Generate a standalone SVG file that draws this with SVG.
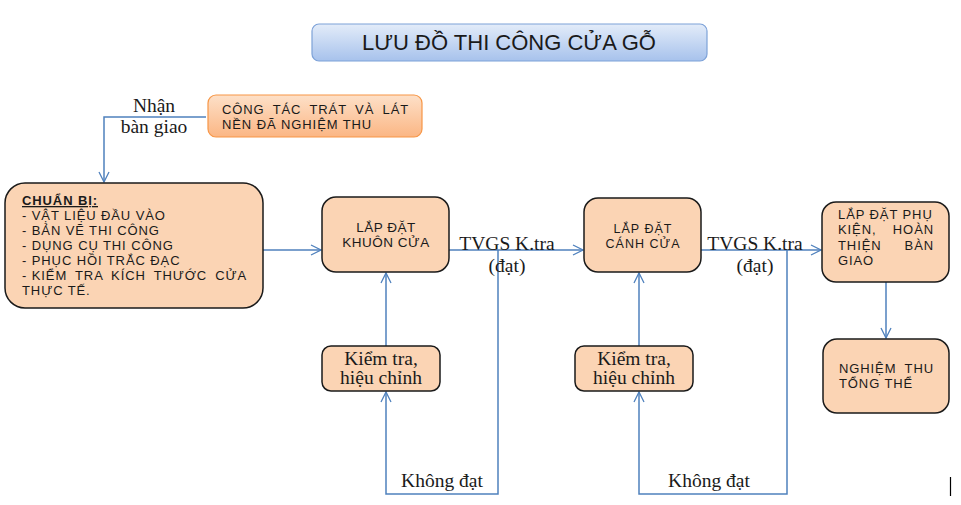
<svg xmlns="http://www.w3.org/2000/svg" width="961" height="505" viewBox="0 0 961 505">
<defs>
<linearGradient id="gTitle" x1="0" y1="0" x2="0" y2="1">
<stop offset="0" stop-color="#e3ecf9"/>
<stop offset="1" stop-color="#a7c2ec"/>
</linearGradient>
<linearGradient id="gOrange" x1="0" y1="0" x2="0" y2="1">
<stop offset="0" stop-color="#fde0c8"/>
<stop offset="1" stop-color="#fbb684"/>
</linearGradient>
<marker id="arr" viewBox="0 0 12 12" refX="11" refY="6" markerWidth="12" markerHeight="12" markerUnits="userSpaceOnUse" orient="auto">
<path d="M1,1 L11,6 L1,11" fill="none" stroke="#4f81bd" stroke-width="1.3"/>
</marker>
<style>
.box{fill:#fbd4b4;stroke:#1a1a1a;stroke-width:1.5}
.sans{font-family:"Liberation Sans",Arial,sans-serif;fill:#1a1a1a}
.serif{font-family:"Liberation Serif","Times New Roman",serif;fill:#1a1a1a;font-size:19.5px}
.b13{font-size:13px;letter-spacing:0.9px}
.c{text-anchor:middle}
.e{text-anchor:end}
.con{fill:none;stroke:#4f81bd;stroke-width:1.5}
</style>
</defs>
<rect width="961" height="505" fill="#ffffff"/>

<g id="title">
<rect x="312" y="24" width="395" height="37" rx="7" fill="url(#gTitle)" stroke="#7da2d8" stroke-width="1.2"/>
<text x="509" y="50" class="sans c" font-size="22">LƯU ĐỒ THI CÔNG CỬA GỖ</text>
</g>

<g id="connectors">
<polyline class="con" points="206,117 104,117 104,182" marker-end="url(#arr)"/>
<line class="con" x1="263" y1="250" x2="321" y2="250" marker-end="url(#arr)"/>
<line class="con" x1="449" y1="250" x2="583" y2="250" marker-end="url(#arr)"/>
<line class="con" x1="701" y1="250" x2="821" y2="250" marker-end="url(#arr)"/>
<polyline class="con" points="498,250 498,494 386,494 386,392" marker-end="url(#arr)"/>
<line class="con" x1="386" y1="346" x2="386" y2="273" marker-end="url(#arr)"/>
<polyline class="con" points="787,250 787,494 639,494 639,392" marker-end="url(#arr)"/>
<line class="con" x1="639" y1="346" x2="639" y2="273" marker-end="url(#arr)"/>
<line class="con" x1="886" y1="282" x2="886" y2="338" marker-end="url(#arr)"/>
</g>

<g id="labels">
<text x="154" y="112" class="serif c">Nhận</text>
<text x="154" y="133" class="serif c">bàn giao</text>
<text x="507" y="250" class="serif c">TVGS K.tra</text>
<text x="507" y="272" class="serif c">(đạt)</text>
<text x="755" y="250" class="serif c">TVGS K.tra</text>
<text x="755" y="272" class="serif c">(đạt)</text>
<text x="442" y="487" class="serif c">Không đạt</text>
<text x="709" y="487" class="serif c">Không đạt</text>
</g>

<g id="node-congtac">
<rect x="208" y="95" width="214" height="42" rx="8" fill="url(#gOrange)" stroke="#f79646" stroke-width="1.2"/>
<text x="222" y="114" class="sans b13" word-spacing="3.8">CÔNG TÁC TRÁT VÀ LÁT</text>
<text x="222" y="129" class="sans b13">NỀN ĐÃ NGHIỆM THU</text>
</g>

<g id="node-chuanbi">
<rect x="5" y="183" width="258" height="125" rx="20" class="box"/>
<text x="22" y="205" class="sans b13" font-weight="bold" text-decoration="underline">CHUẨN BỊ:</text>
<text x="22" y="220" class="sans b13">- VẬT LIỆU ĐẦU VÀO</text>
<text x="22" y="235" class="sans b13">- BẢN VẼ THI CÔNG</text>
<text x="22" y="250" class="sans b13">- DỤNG CỤ THI CÔNG</text>
<text x="22" y="265" class="sans b13">- PHỤC HỒI TRẮC ĐẠC</text>
<text x="22" y="280" class="sans b13"><tspan>- KIỂM</tspan><tspan word-spacing="3.6"> TRA KÍCH THƯỚC CỬA</tspan></text>
<text x="22" y="295" class="sans b13">THỰC TẾ.</text>
</g>

<g id="node-khuon">
<rect x="322" y="197" width="127" height="75" rx="14" class="box"/>
<text x="386" y="232" class="sans c" font-size="13.5" letter-spacing="0.5">LẮP ĐẶT</text>
<text x="386" y="247" class="sans c" font-size="13.5" letter-spacing="0.5">KHUÔN CỬA</text>
</g>

<g id="node-kiemtra1">
<rect x="322" y="346" width="118" height="45" rx="9" class="box"/>
<text x="381" y="365" class="serif c">Kiểm tra,</text>
<text x="381" y="384" class="serif c">hiệu chỉnh</text>
</g>

<g id="node-canh">
<rect x="584" y="198" width="117" height="74" rx="14" class="box"/>
<text x="643" y="233" class="sans c" font-size="12.5" letter-spacing="1">LẮP ĐẶT</text>
<text x="643" y="248" class="sans c" font-size="12.5" letter-spacing="1">CÁNH CỬA</text>
</g>

<g id="node-kiemtra2">
<rect x="575" y="346" width="118" height="45" rx="9" class="box"/>
<text x="634" y="365" class="serif c">Kiểm tra,</text>
<text x="634" y="384" class="serif c">hiệu chỉnh</text>
</g>

<g id="node-phukien">
<rect x="822" y="202" width="127" height="80" rx="14" class="box"/>
<text x="838" y="219" class="sans b13">LẮP ĐẶT PHỤ</text>
<text x="838" y="234" class="sans b13">KIỆN,</text>
<text x="934" y="234" class="sans b13 e">HOÀN</text>
<text x="838" y="250" class="sans b13">THIỆN</text>
<text x="934" y="250" class="sans b13 e">BÀN</text>
<text x="838" y="265" class="sans b13">GIAO</text>
</g>

<g id="node-nghiemthu">
<rect x="823" y="339" width="126" height="74" rx="14" class="box"/>
<text x="839" y="373" class="sans b13">NGHIỆM</text>
<text x="934" y="373" class="sans b13 e">THU</text>
<text x="839" y="388" class="sans b13">TỔNG THỂ</text>
</g>

<line x1="950.5" y1="477" x2="950.5" y2="496" stroke="#000000" stroke-width="1.2"/>
</svg>
